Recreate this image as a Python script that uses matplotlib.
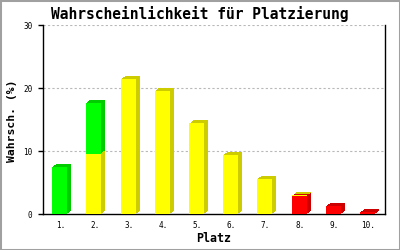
import matplotlib
matplotlib.use('Agg')
import matplotlib.pyplot as plt
from matplotlib import transforms
from matplotlib.patches import Rectangle


places = ['1.', '2.', '3.', '4.', '5.', '6.', '7.', '8.', '9.', '10.']
# stacked from bottom: red, yellow, green
red = [0, 0, 0, 0, 0, 0, 0, 2.9, 1.3, 0.3]
yellow = [0, 9.6, 21.5, 19.6, 14.4, 9.4, 5.6, 0.05, 0, 0]
green = [7.5, 8.1, 0, 0, 0, 0, 0, 0, 0, 0]
yticks = [0, 10, 20, 30]

series = [(red, '#ff0000', '#cc0000'),
          (yellow, '#ffff00', '#cccc00'),
          (green, '#00ff00', '#00cc00')]

fig = plt.figure(figsize=(4, 2.5), dpi=100)
ax = fig.add_axes([43.3 / 400, 36 / 250, 342 / 400, 188.7 / 250])

x = [i + 1 - 0.02 for i in range(len(places))]
width = 0.44

# depth copies (stair-stepped 3D side and top)
for k in [4, 3, 2, 1]:
    shift = transforms.ScaledTranslation(k / 100, 0.75 * k / 100, fig.dpi_scale_trans)
    bottom = [0] * len(places)
    for values, front, side in series:
        ax.bar(x, values, width=width, bottom=bottom, color=side, linewidth=0,
               transform=ax.transData + shift, zorder=2)
        bottom = [b + v for b, v in zip(bottom, values)]

bottom = [0] * len(places)
for values, front, side in series:
    ax.bar(x, values, width=width, bottom=bottom, color=front, linewidth=0, zorder=3)
    bottom = [b + v for b, v in zip(bottom, values)]

ax.set_xlim(0.5, 10.5)
ax.set_ylim(0, 30)
ax.set_xticks(range(1, len(places) + 1))
ax.set_xticklabels(places, family='DejaVu Sans Mono', fontsize=5.5)
ax.set_yticks(yticks)
ax.set_yticklabels([str(t) for t in yticks], family='DejaVu Sans Mono', fontsize=5.5)
ax.tick_params(axis='x', length=0, pad=5)
ax.tick_params(axis='y', length=3.6, width=1.0, pad=4.3)

for y in yticks[1:]:
    ax.axhline(y, color='#b8b8b8', linewidth=0.8, dashes=(2, 2), zorder=1)

ax.spines['top'].set_visible(False)
for s in ['left', 'bottom', 'right']:
    ax.spines[s].set_linewidth(1.0)
    ax.spines[s].set_color('black')

fig.text(0.5, 1 - 13.5 / 250, 'Wahrscheinlichkeit für Platzierung', ha='center', va='center',
         family='DejaVu Sans Mono', fontweight='bold', fontsize=10.5)
fig.text(12 / 400, 1 - 121 / 250, 'Wahrsch. (%)', ha='center', va='center', rotation=90,
         family='DejaVu Sans Mono', fontweight='bold', fontsize=8.2)
fig.text(214 / 400, 1 - 238 / 250, 'Platz', ha='center', va='center',
         family='DejaVu Sans Mono', fontweight='bold', fontsize=8.4)

fig.patches.append(Rectangle((0, 0), 1, 1, transform=fig.transFigure, fill=False,
                             edgecolor='#a0a0a0', linewidth=2.2))

fig.savefig('out.png', dpi=100, facecolor='white')
